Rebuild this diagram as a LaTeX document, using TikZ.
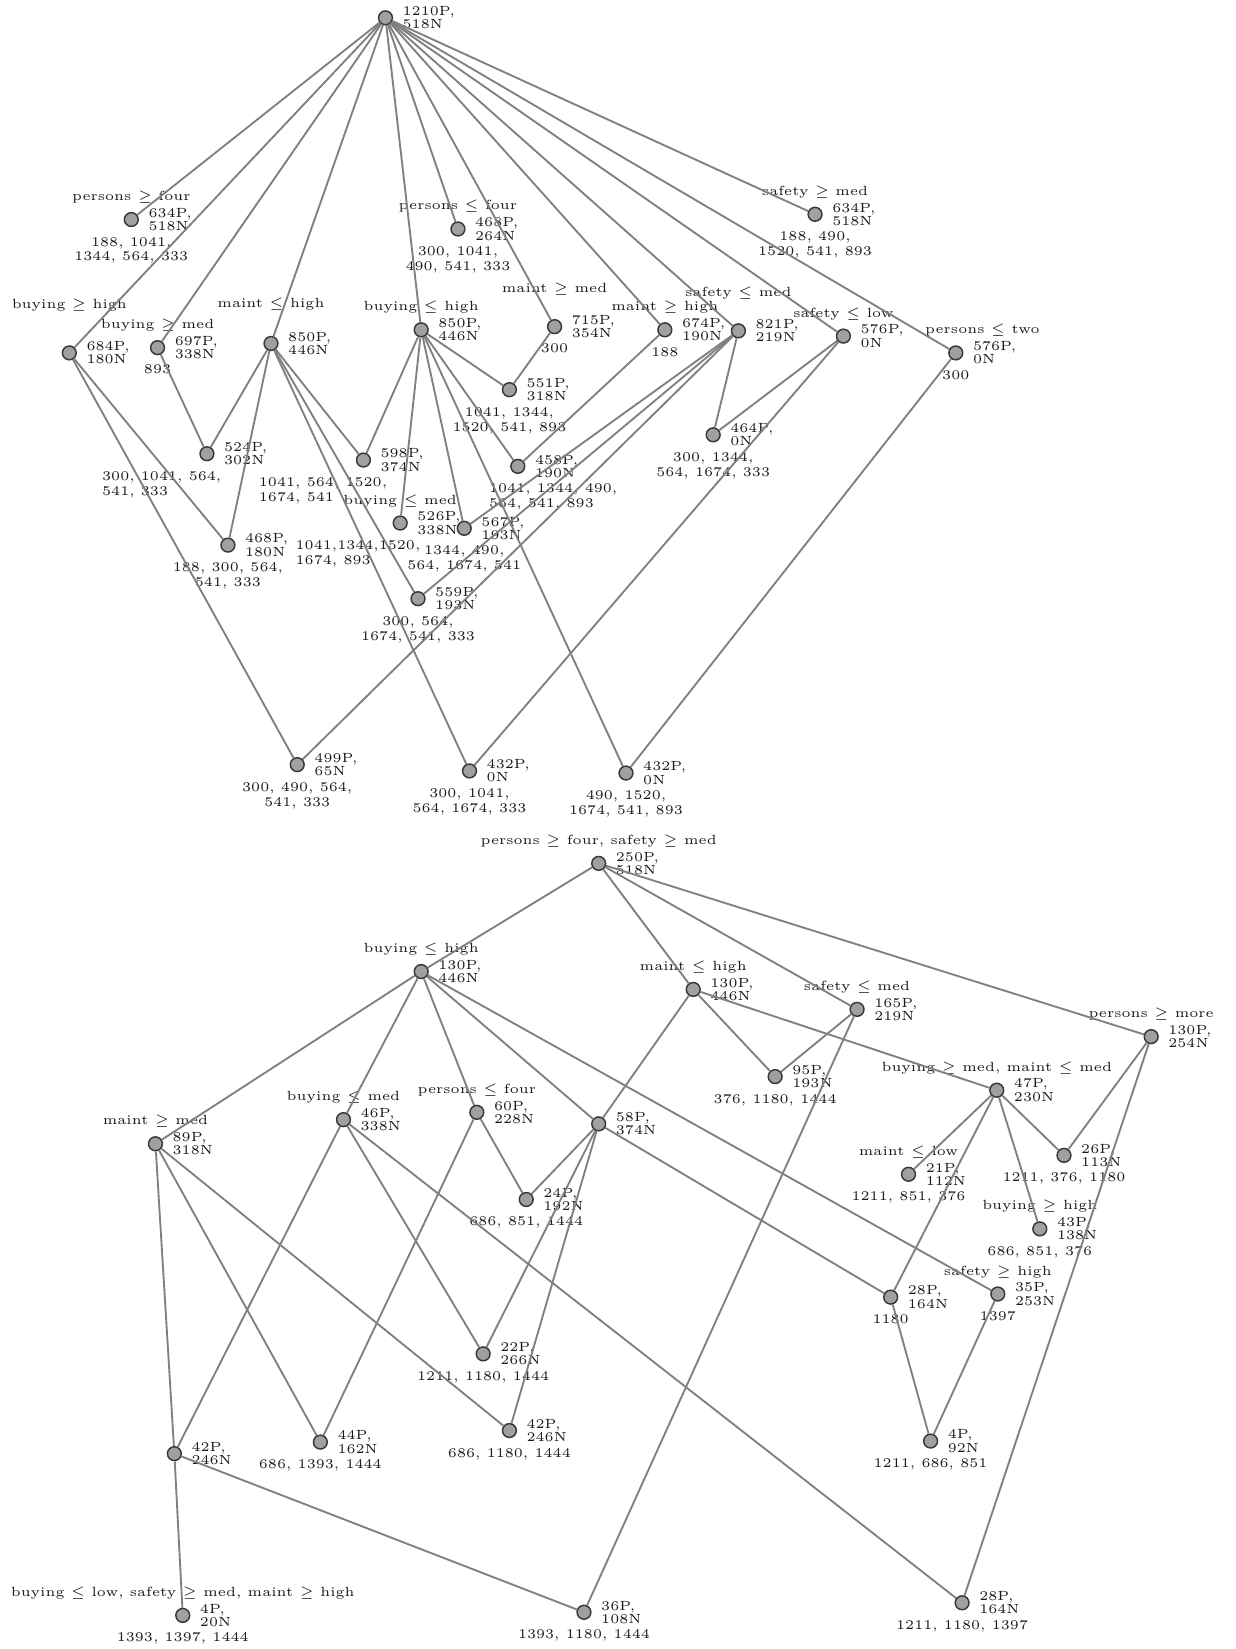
\documentclass[tikz,border=0pt]{standalone}
\definecolor{edgecol}{HTML}{808080}
\definecolor{nodefill}{HTML}{A0A0A0}
\definecolor{nodeline}{HTML}{383838}
\definecolor{txt}{HTML}{1A1A1A}
\tikzset{
  vtx/.style={circle, fill=nodefill, draw=nodeline, line width=0.55pt, minimum size=5.2pt, inner sep=0pt},
  edg/.style={draw=edgecol, line width=0.7pt},
  labbase/.style={inner sep=0pt, text=txt},
  pnl/.style={labbase, font=\fontsize{5}{5}\selectfont, align=left, xshift=3.4pt},
  abl/.style={labbase, font=\fontsize{5}{6}\selectfont, text depth=1pt, yshift=3.07pt},
  bll/.style={labbase, font=\fontsize{5}{5.64}\selectfont, align=center, yshift=-3.5pt},
  pn/.style={label={[pnl]right:{#1}}},
  ab/.style={label={[abl]above:{#1}}},
  aby/.style 2 args={label={[abl,yshift=#1]above:{#2}}},
  abx/.style 2 args={label={[abl,xshift=#1]above:{#2}}},
  bl/.style={label={[bll]below:{#1}}},
  bls/.style 2 args={label={[bll,align=left,anchor=north west,xshift=#1]below:{#2}}},
}
\begin{document}
\begin{tikzpicture}[x=0.395pt, y=-0.395pt]
\fill[white] (0,0) rectangle (1176,1570);
\useasboundingbox (0,0) rectangle (1176,1570);

% ---------------- top lattice ----------------
\node[vtx, pn={1210P,\\518N}] (R) at (367,17) {};

\node[vtx, ab={persons $\geq$ four}, pn={634P,\\518N}, bl={188, 1041,\\1344, 564, 333}] (A1) at (125,209) {};
\node[vtx, ab={persons $\leq$ four}, pn={468P,\\264N}, bl={300, 1041,\\490, 541, 333}] (A2) at (436,218) {};
\node[vtx, ab={safety $\geq$ med}, pn={634P,\\518N}, bl={188, 490,\\1520, 541, 893}] (A3) at (776,204) {};

\node[vtx, aby={9.4pt}{buying $\geq$ high}, pn={684P,\\180N}] (B1) at (66,336) {};
\node[vtx, ab={buying $\geq$ med}, pn={697P,\\338N}, bl={893}] (B2) at (150,331) {};
\node[vtx, aby={6.2pt}{maint $\leq$ high}, pn={850P,\\446N}] (B3) at (258,327) {};
\node[vtx, ab={buying $\leq$ high}, pn={850P,\\446N}] (B4) at (401,314) {};
\node[vtx, aby={5.8pt}{maint $\geq$ med}, pn={715P,\\354N}, bl={300}] (B5) at (528,311) {};
\node[vtx, ab={maint $\geq$ high}, pn={674P,\\190N}, bl={188}] (B6) at (633,314) {};
\node[vtx, aby={5.8pt}{safety $\leq$ med}, pn={821P,\\219N}] (B7) at (703,315) {};
\node[vtx, ab={safety $\leq$ low}, pn={576P,\\0N}] (B8) at (803,320) {};
\node[vtx, abx={10pt}{persons $\leq$ two}, pn={576P,\\0N}, bl={300}] (B9) at (910,336) {};

\node[vtx, pn={524P,\\302N}, bls={-39.6pt}{300, 1041, 564,\\541, 333}] (C1) at (197,432) {};
\node[vtx, pn={598P,\\374N}, bls={-39.5pt}{1041, 564, 1520,\\1674, 541}] (C2) at (346,438) {};
\node[vtx, pn={551P,\\318N}, bl={1041, 1344,\\1520, 541, 893}] (C3) at (485,371) {};
\node[vtx, pn={458P,\\190N}, bls={-11pt}{1041, 1344, 490,\\564, 541, 893}] (C4) at (493,444) {};
\node[vtx, pn={464P,\\0N}, bl={300, 1344,\\564, 1674, 333}] (C5) at (679,414) {};
\node[vtx, ab={buying $\leq$ med}, pn={526P,\\338N}, bls={-39.5pt}{1041,1344,1520,\\1674, 893}] (C6) at (381,498) {};
\node[vtx, pn={567P,\\193N}, bl={1344, 490,\\564, 1674, 541}] (C7) at (442,503) {};
\node[vtx, pn={468P,\\180N}, bl={188, 300, 564,\\541, 333}] (C8) at (217,519) {};
\node[vtx, pn={559P,\\193N}, bl={300, 564,\\1674, 541, 333}] (C9) at (398,570) {};

\node[vtx, pn={499P,\\65N}, bl={300, 490, 564,\\541, 333}] (D1) at (283,728) {};
\node[vtx, pn={432P,\\0N}, bl={300, 1041,\\564, 1674, 333}] (D2) at (447,734) {};
\node[vtx, pn={432P,\\0N}, bl={490, 1520,\\1674, 541, 893}] (D3) at (596,736) {};

\foreach \t in {A1,A2,A3,B1,B2,B3,B4,B5,B6,B7,B8,B9} \draw[edg] (R) -- (\t);
\draw[edg] (B1) -- (C8);  \draw[edg] (B1) -- (D1);
\draw[edg] (B2) -- (C1);
\draw[edg] (B3) -- (C1);  \draw[edg] (B3) -- (C8);  \draw[edg] (B3) -- (C2);
\draw[edg] (B3) -- (C9);  \draw[edg] (B3) -- (D2);
\draw[edg] (B4) -- (C2);  \draw[edg] (B4) -- (C6);  \draw[edg] (B4) -- (C7);
\draw[edg] (B4) -- (C3);  \draw[edg] (B4) -- (C4);  \draw[edg] (B4) -- (D3);
\draw[edg] (B5) -- (C3);
\draw[edg] (B6) -- (C4);
\draw[edg] (B7) -- (C5);  \draw[edg] (B7) -- (C7);  \draw[edg] (B7) -- (C9);  \draw[edg] (B7) -- (D1);
\draw[edg] (B8) -- (C5);  \draw[edg] (B8) -- (D2);
\draw[edg] (B9) -- (D3);

% ---------------- bottom lattice ----------------
\node[vtx, ab={persons $\geq$ four, safety $\geq$ med}, pn={250P,\\518N}] (S) at (570,822) {};

\node[vtx, ab={buying $\leq$ high}, pn={130P,\\446N}] (T1) at (401,925) {};
\node[vtx, ab={maint $\leq$ high}, pn={130P,\\446N}] (T2) at (660,942) {};
\node[vtx, ab={safety $\leq$ med}, pn={165P,\\219N}] (T3) at (816,961) {};
\node[vtx, ab={persons $\geq$ more}, pn={130P,\\254N}] (T4) at (1096,987) {};

\node[vtx, ab={maint $\geq$ med}, pn={89P,\\318N}] (U1) at (148,1089) {};
\node[vtx, ab={buying $\leq$ med}, pn={46P,\\338N}] (U2) at (327,1066) {};
\node[vtx, ab={persons $\leq$ four}, pn={60P,\\228N}] (U3) at (454,1059) {};
\node[vtx, pn={58P,\\374N}] (U4) at (570,1070) {};
\node[vtx, pn={95P,\\193N}, bl={376, 1180, 1444}] (U5) at (738,1025) {};
\node[vtx, ab={buying $\geq$ med, maint $\leq$ med}, pn={47P,\\230N}] (U6) at (949,1038) {};

\node[vtx, ab={maint $\leq$ low}, pn={21P,\\112N}, bl={1211, 851, 376}] (V1) at (865,1118) {};
\node[vtx, pn={26P,\\113N}, bl={1211, 376, 1180}] (V2) at (1013,1100) {};
\node[vtx, ab={buying $\geq$ high}, pn={43P,\\138N}, bl={686, 851, 376}] (V3) at (990,1170) {};
\node[vtx, pn={24P,\\192N}, bl={686, 851, 1444}] (V4) at (501,1142) {};

\node[vtx, pn={28P,\\164N}, bl={1180}] (W1) at (848,1235) {};
\node[vtx, ab={safety $\geq$ high}, pn={35P,\\253N}, bl={1397}] (W2) at (950,1232) {};

\node[vtx, pn={22P,\\266N}, bl={1211, 1180, 1444}] (X1) at (460,1289) {};
\node[vtx, pn={42P,\\246N}, bl={686, 1180, 1444}] (X2) at (485,1362) {};
\node[vtx, pn={44P,\\162N}, bl={686, 1393, 1444}] (X3) at (305,1373) {};
\node[vtx, pn={42P,\\246N}] (X4) at (166,1384) {};
\node[vtx, pn={4P,\\92N}, bl={1211, 686, 851}] (X5) at (886,1372) {};

\node[vtx, ab={buying $\leq$ low, safety $\geq$ med, maint $\geq$ high}, pn={4P,\\20N}, bl={1393, 1397, 1444}] (Y1) at (174,1538) {};
\node[vtx, pn={36P,\\108N}, bl={1393, 1180, 1444}] (Y2) at (556,1535) {};
\node[vtx, pn={28P,\\164N}, bl={1211, 1180, 1397}] (Y3) at (916,1526) {};

\foreach \t in {T1,T2,T3,T4} \draw[edg] (S) -- (\t);
\foreach \t in {U1,U2,U3,U4,W2} \draw[edg] (T1) -- (\t);
\foreach \t in {U4,U5,U6} \draw[edg] (T2) -- (\t);
\foreach \t in {U5,Y2} \draw[edg] (T3) -- (\t);
\foreach \t in {V2,Y3} \draw[edg] (T4) -- (\t);
\foreach \t in {X4,X3,X2} \draw[edg] (U1) -- (\t);
\foreach \t in {X4,X1,Y3} \draw[edg] (U2) -- (\t);
\foreach \t in {X3,V4} \draw[edg] (U3) -- (\t);
\foreach \t in {V4,X1,X2,W1} \draw[edg] (U4) -- (\t);
\foreach \t in {V1,W1,V3,V2} \draw[edg] (U6) -- (\t);
\draw[edg] (W1) -- (X5);
\draw[edg] (W2) -- (X5);
\draw[edg] (X4) -- (Y1);
\draw[edg] (X4) -- (Y2);
\end{tikzpicture}
\end{document}
